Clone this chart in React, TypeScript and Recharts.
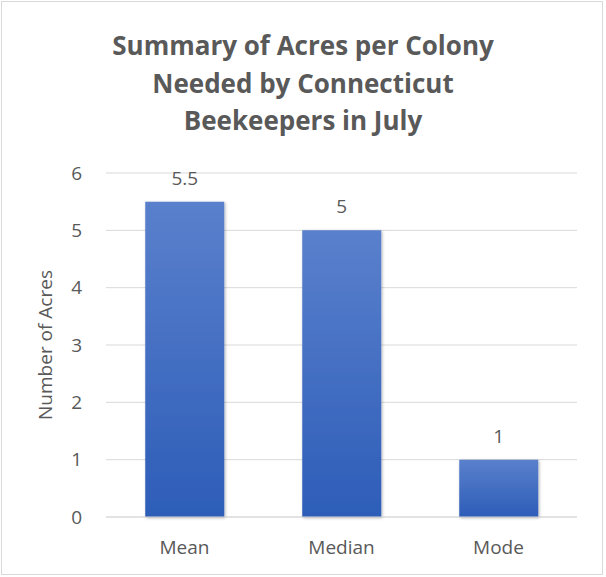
import React from "react";
import { BarChart, Bar, XAxis, YAxis, CartesianGrid, LabelList } from "recharts";

const categories = ["Mean", "Median", "Mode"];
const acres = [5.5, 5, 1];
const yTicks = [0, 1, 2, 3, 4, 5, 6];
const titleLines = ["Summary of Acres per Colony", "Needed by Connecticut", "Beekeepers in July"];
const yAxisTitle = "Number of Acres";

const data = categories.map((c, i) => ({ name: c, value: acres[i] }));

const FONT = "'Open Sans', sans-serif";
const GREY = "#595959";
const FS = 19;

export default function App() {
  return (
    <div
      style={{
        position: "absolute",
        left: 0,
        top: 0,
        width: 606,
        height: 577,
        background: "#fff",
        fontFamily: FONT,
      }}
    >
      <div
        style={{
          position: "absolute",
          left: 1,
          top: 1,
          width: 602,
          height: 574,
          border: "1px solid #d9d9d9",
          boxSizing: "border-box",
        }}
      />
      <div
        style={{
          position: "absolute",
          left: 0,
          top: 27,
          width: 606,
          textAlign: "center",
          fontWeight: 700,
          fontSize: 26,
          lineHeight: "37.5px",
          color: GREY,
        }}
      >
        {titleLines.map((t) => (
          <div key={t}>{t}</div>
        ))}
      </div>
      <div style={{ position: "absolute", left: 0, top: 0 }}>
        <BarChart
          width={606}
          height={577}
          data={data}
          margin={{ top: 173, right: 29, bottom: 20, left: 46 }}
          barCategoryGap="25%"
        >
          <defs>
            <linearGradient id="barGrad" x1="0" y1="0" x2="0" y2="1">
              <stop offset="0%" stopColor="#5a80cc" />
              <stop offset="100%" stopColor="#2d5db8" />
            </linearGradient>
            <filter id="barShadow" x="-20%" y="-20%" width="140%" height="140%">
              <feDropShadow dx="1" dy="1" stdDeviation="1.5" floodColor="#000" floodOpacity="0.3" />
            </filter>
          </defs>
          <CartesianGrid vertical={false} stroke="#d9d9d9" strokeWidth={1} />
          <XAxis
            dataKey="name"
            axisLine={{ stroke: "#d9d9d9" }}
            tickLine={false}
            height={40}
            tickMargin={18}
            tick={{ fill: GREY, fontSize: FS, fontFamily: FONT }}
          />
          <YAxis
            domain={[0, 6]}
            ticks={yTicks}
            width={60}
            axisLine={false}
            tickLine={false}
            tickMargin={18}
            tick={{ fill: GREY, fontSize: FS, fontFamily: FONT }}
            label={{
              value: yAxisTitle,
              angle: -90,
              position: "insideLeft",
              offset: 0,
              dx: -1,
              style: { fill: GREY, fontSize: FS, fontFamily: FONT, textAnchor: "middle" },
            }}
          />
          <Bar dataKey="value" fill="url(#barGrad)" filter="url(#barShadow)" isAnimationActive={false}>
            <LabelList
              dataKey="value"
              position="top"
              offset={17}
              style={{ fill: GREY, fontSize: FS, fontFamily: FONT }}
            />
          </Bar>
        </BarChart>
      </div>
    </div>
  );
}
